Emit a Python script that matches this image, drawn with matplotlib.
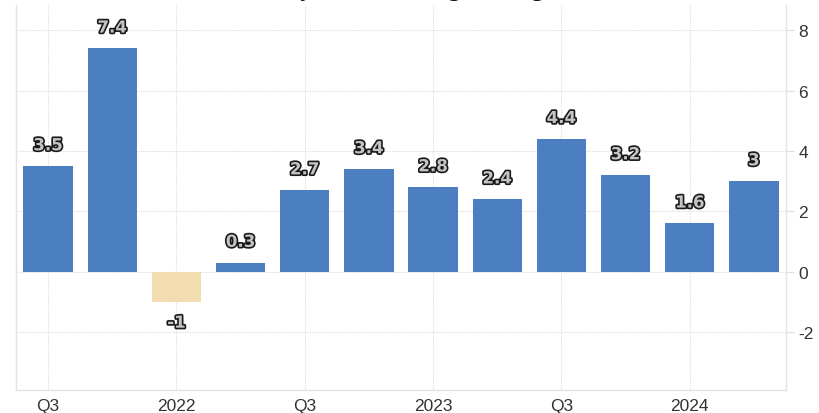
import matplotlib
matplotlib.use("Agg")
import matplotlib.pyplot as plt
import matplotlib.patheffects as pe
import numpy as np

# quarterly values, Q3 2021 .. Q2 2024
quarters = ["Q3 2021", "Q4 2021", "Q1 2022", "Q2 2022", "Q3 2022", "Q4 2022",
            "Q1 2023", "Q2 2023", "Q3 2023", "Q4 2023", "Q1 2024", "Q2 2024"]
values = [3.5, 7.4, -1.0, 0.3, 2.7, 3.4, 2.8, 2.4, 4.4, 3.2, 1.6, 3.0]
labels = ["3.5", "7.4", "-1", "0.3", "2.7", "3.4", "2.8", "2.4", "4.4", "3.2", "1.6", "3"]
tick_idx = [0, 2, 4, 6, 8, 10]
tick_labels = ["Q3", "2022", "Q3", "2023", "Q3", "2024"]
title = "Steady Growth Brings Strong Gains;"

BLUE = "#4c7fbf"
NEG = "#f3dcb0"
GRID = "#dddddd"

plt.rcParams["font.family"] = ["Liberation Sans Narrow", "Liberation Sans", "DejaVu Sans"]
plt.rcParams["axes.unicode_minus"] = False

fig = plt.figure(figsize=(8.19, 4.14), dpi=100)
ax = fig.add_axes([0.0195, 0.0556, 0.9402, 0.93])

x = np.arange(len(values))
colors = [BLUE if v >= 0 else NEG for v in values]
ax.bar(x, values, width=0.77, color=colors, zorder=3)

for xi, v, lab in zip(x, values, labels):
    off = 15 if v >= 0 else -15
    ax.annotate(lab, (xi, v), xytext=(0, off), textcoords="offset points",
                ha="center", va="center", fontsize=12, fontweight="bold",
                family=["DejaVu Sans"], color="#c4c4c4",
                path_effects=[pe.withStroke(linewidth=2.4, foreground="#1a1a1a")],
                zorder=5)

ax.set_xlim(-0.5, 11.5)
ax.set_ylim(-3.92, 8.84)
ax.set_yticks([-2, 0, 2, 4, 6, 8])
ax.set_xticks(tick_idx)
ax.set_xticklabels(tick_labels)

ax.yaxis.tick_right()
ax.tick_params(axis="y", length=6, color=GRID, labelsize=12.5, pad=3, labelcolor="#333333")
ax.tick_params(axis="x", length=0, labelsize=12.5, pad=6, labelcolor="#333333")

ax.grid(True, color=GRID, linestyle=(0, (1, 1)), linewidth=0.8, zorder=0)

for s in ["left", "bottom", "right"]:
    ax.spines[s].set_color("#e3e3e3")
    ax.spines[s].set_linewidth(1.0)
ax.spines["top"].set_visible(False)

# title, mostly cut off by the top edge (only descenders show)
fig.text(0.525, 1.0 + 4 / 414, title, ha="center", va="baseline", fontsize=17,
         fontweight="bold", family=["Liberation Serif"], color="#111111")

fig.savefig("out.png", dpi=100)
